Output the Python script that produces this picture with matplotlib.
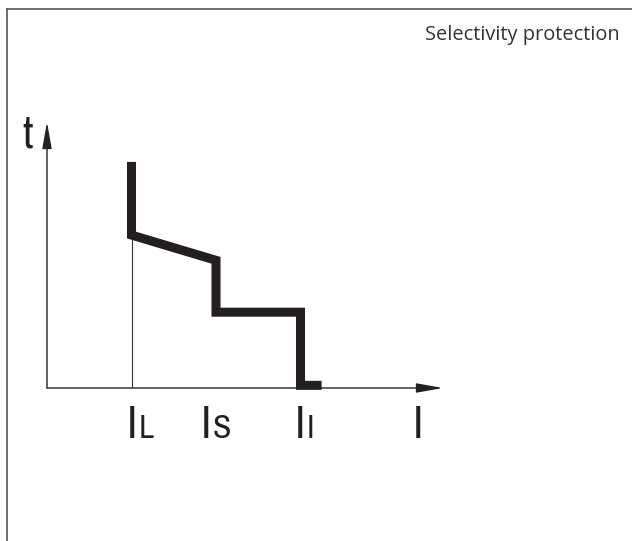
import matplotlib.pyplot as plt
from matplotlib import font_manager
from matplotlib.lines import Line2D

# trip curve of a selective breaker (current in multiples, time in arbitrary units)
curve_i = [1.0, 1.0, 2.0, 2.0, 3.0, 3.0, 3.25]
curve_t = [8.5, 5.75, 4.8, 2.85, 2.85, 0.1, 0.1]

tick_pos = [1.0, 1.88, 2.99, 4.385]
tick_main = ['I', 'I', 'I', 'I']
tick_sub = ['L', 'S', 'I', '']

# a condensed face if there is one, otherwise Liberation Sans
names = sorted({f.name for f in font_manager.fontManager.ttflist})
narrow = [n for n in names if 'Narrow' in n or 'Condensed' in n]
fnt = narrow[:1] + ['Liberation Sans', 'DejaVu Sans']

W, H = 632, 541
fig = plt.figure(figsize=(W / 100, H / 100), dpi=100)
# axes origin at (47, 388) px, 84.5 px per unit in x, 26.6 px per unit in y
ax = fig.add_axes([47 / W, (H - 388) / H, 396 / W, 266 / H])
ax.set_xlim(0, 396 / 84.5)
ax.set_ylim(0, 10)
ax.axis('off')

# frame (top and left edge only)
fig.add_artist(Line2D([6.5 / W, 6.5 / W], [0, 1 - 8.5 / H], color='#555555', lw=1.2))
fig.add_artist(Line2D([6.5 / W, 1], [1 - 8.5 / H, 1 - 8.5 / H], color='#555555', lw=1.2))

fig.text(620 / W, 1 - 40 / H, 'Selectivity protection', ha='right', va='baseline',
         fontsize=14.4, family='Open Sans', color='#333333')

# axes with arrows
arr = dict(arrowstyle='-|>,head_length=0.9,head_width=0.16', color='#222222',
           lw=1.0, shrinkA=0, shrinkB=0, mutation_scale=18)
ax.annotate('', xy=(396 / 84.5, 0), xytext=(0, 0), arrowprops=arr, annotation_clip=False)
ax.annotate('', xy=(0, 10), xytext=(0, 0), arrowprops=arr, annotation_clip=False)

ax.vlines(curve_i[0], 0, curve_t[1], color='#333333', lw=0.8)
ax.plot(curve_i, curve_t, color='#231f20', lw=6.5, solid_joinstyle='miter',
        solid_capstyle='butt', clip_on=False)

ax.text(-0.23, 9.06, 't', ha='center', va='baseline', fontsize=33, family=fnt,
        color='#231f20', clip_on=False)
for x, m, s in zip(tick_pos, tick_main, tick_sub):
    ax.text(x, -1.88, m, ha='center', va='baseline', fontsize=33, family=fnt,
            color='#231f20', clip_on=False)
    if s:
        ax.annotate(s, xy=(x, -1.88), xytext=(5, 0), textcoords='offset points',
                    ha='left', va='baseline', fontsize=24, family=fnt, color='#231f20',
                    annotation_clip=False)

fig.savefig('out.png', dpi=100)
